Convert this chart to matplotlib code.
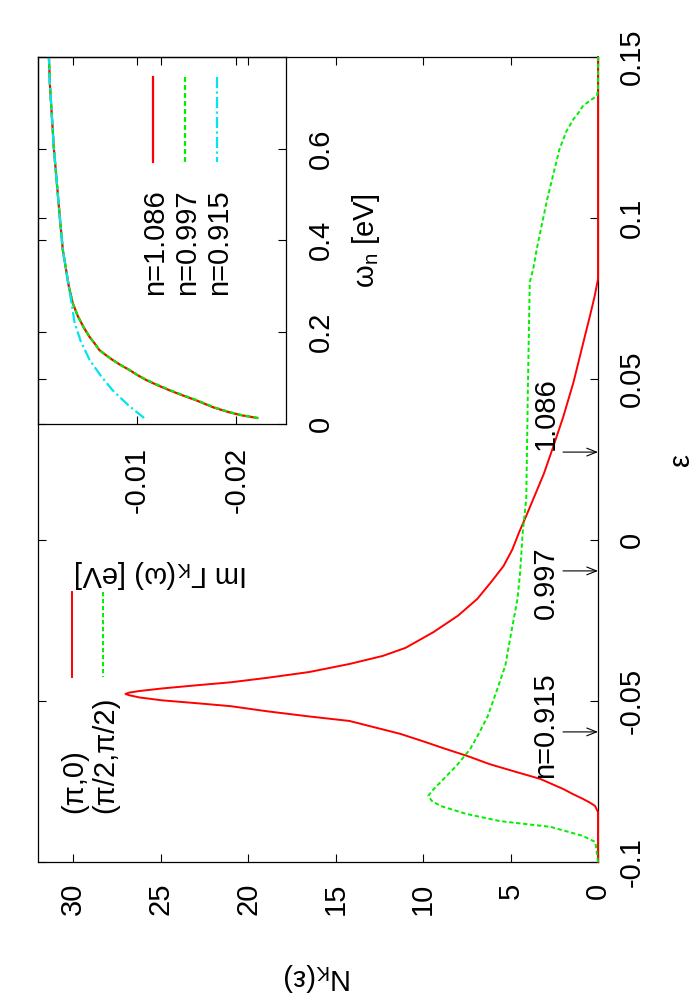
import matplotlib.pyplot as plt
from matplotlib.lines import Line2D

# main panel: N_K(eps) for two k points
red_eps = [-0.100, -0.0845, -0.0826, -0.0816, -0.0804, -0.0790, -0.0773, -0.0742, -0.0720,
           -0.0696, -0.0672, -0.0649, -0.0625, -0.0602, -0.0562, -0.0548, -0.0532, -0.0516,
           -0.0507, -0.0498, -0.0489, -0.0482, -0.0478, -0.0474, -0.0469, -0.0461, -0.0451,
           -0.0442, -0.0428, -0.0410, -0.0385, -0.0360, -0.0335, -0.0286, -0.0235, -0.0183,
           -0.0130, -0.0081, -0.0030, 0.0025, 0.0075, 0.0127, 0.0205, 0.0283, 0.0380, 0.0490,
           0.0600, 0.0696, 0.0755, 0.0810, 0.150]
red_N = [0, 0, 0.17, 0.45, 0.86, 1.4, 2.0, 3.3, 4.7,
         6.2, 7.4, 8.7, 10.0, 11.3, 14.2, 16.5, 18.9, 21.0,
         22.9, 24.9, 26.2, 26.8, 27.0, 26.8, 26.2, 24.9, 22.9,
         21.0, 18.9, 16.5, 14.2, 12.3, 11.0, 9.4, 8.0, 6.9,
         6.1, 5.4, 4.9, 4.5, 4.1, 3.7, 3.1, 2.6, 2.0, 1.4,
         0.9, 0.46, 0.2, 0, 0]

green_eps = [-0.100, -0.0938, -0.0919, -0.0891, -0.0873, -0.0851, -0.0826, -0.0810, -0.0795,
             -0.0780, -0.0752, -0.0702, -0.0649, -0.0600, -0.0547, -0.0470, -0.0391, -0.0300,
             -0.0183, -0.0100, 0.0025, 0.0127, 0.0491, 0.0801, 0.0842, 0.0904, 0.1059,
             0.1214, 0.1270, 0.1307, 0.1328, 0.1348, 0.1365, 0.1379, 0.140, 0.150]
green_N = [0, 0.15, 0.86, 2.7, 5.6, 7.5, 9.0, 9.5, 9.7,
           9.5, 9.0, 8.1, 7.3, 6.8, 6.3, 5.8, 5.3, 5.0,
           4.6, 4.45, 4.3, 4.1, 4.0, 3.9, 3.7, 3.5, 2.9,
           2.2, 1.8, 1.4, 1.1, 0.86, 0.45, 0.06, 0, 0]

n_ticks = [0, 5, 10, 15, 20, 25, 30]
eps_ticks = [-0.1, -0.05, 0, 0.05, 0.1, 0.15]
eps_ticklabels = ['-0.1', '-0.05', '0', '0.05', '0.1', '0.15']

# chemical potential markers
arrow_eps = [-0.0596, -0.0096, 0.0273]
arrow_text_eps = [-0.074, -0.0245, 0.028]
arrow_labels = ['n=0.915', '0.997', '1.086']

# inset: Im Gamma_K(omega_n)
w_red = [0.012, 0.018, 0.025, 0.035, 0.051, 0.062, 0.073, 0.084, 0.095, 0.106, 0.117, 0.128,
         0.139, 0.150, 0.160, 0.175, 0.189, 0.210, 0.235, 0.263, 0.300, 0.340, 0.379, 0.450,
         0.525, 0.600, 0.670, 0.740, 0.800]
im_red = [-0.0221, -0.0205, -0.0192, -0.0177, -0.0159, -0.0145, -0.0132, -0.0120, -0.0109,
          -0.0100, -0.0092, -0.0083, -0.0075, -0.0068, -0.0062, -0.0057, -0.0052, -0.0046,
          -0.0040, -0.0035, -0.0031, -0.0028, -0.0025, -0.0022, -0.0019, -0.0016, -0.0014,
          -0.0012, -0.0011]
w_green = list(w_red)
im_green = [-0.0222, -0.0206, -0.0193, -0.0178, -0.0160, -0.0146, -0.0133, -0.0121, -0.0110,
            -0.0100, -0.0092, -0.0083, -0.0075, -0.0068, -0.0062, -0.0057, -0.0052, -0.0046,
            -0.0040, -0.0035, -0.0031, -0.0028, -0.0025, -0.0022, -0.0019, -0.0016, -0.0014,
            -0.0012, -0.0011]
w_cyan = [0.012, 0.040, 0.073, 0.105, 0.139, 0.180, 0.219, 0.260, 0.300, 0.340, 0.379, 0.450,
          0.525, 0.600, 0.670, 0.740, 0.800]
im_cyan = [-0.0107, -0.0091, -0.0075, -0.0063, -0.0052, -0.0043, -0.0037, -0.0034, -0.0031,
           -0.0028, -0.0025, -0.0022, -0.0019, -0.0016, -0.0014, -0.0012, -0.0011]

w_ticks = [0, 0.2, 0.4, 0.6]
im_ticks = [-0.01, -0.02]

RED = '#ff0000'
GREEN = '#00ee00'
CYAN = '#00e5f0'

plt.rcParams['font.family'] = ['Liberation Sans', 'DejaVu Sans']
plt.rcParams['mathtext.fontset'] = 'custom'
plt.rcParams['mathtext.rm'] = 'Liberation Sans'
plt.rcParams['font.size'] = 21

fig = plt.figure(figsize=(7, 10), dpi=100)
W, H = 700.0, 1000.0

# main axes (plot is drawn rotated: N runs right-to-left, eps upward)
ax = fig.add_axes([38 / W, 1 - 862 / H, 560 / W, 805 / H])
ax.plot(red_N, red_eps, color=RED, lw=1.4, zorder=3, clip_on=False)
ax.plot(green_N, green_eps, color=GREEN, lw=1.4, dashes=(2.2, 1.4), zorder=3, clip_on=False)
ax.set_xlim(32, 0)
ax.set_ylim(-0.1, 0.15)
ax.set_xticks(n_ticks)
ax.set_xticklabels([str(v) for v in n_ticks], rotation=90)
ax.set_yticks(eps_ticks)
ax.set_yticklabels(eps_ticklabels, rotation=90, va='center')
ax.tick_params(direction='in', length=6, width=0.8, top=True, right=True,
               labelleft=False, labelright=True)
ax.tick_params(axis='x', pad=15)
ax.tick_params(axis='y', pad=14)
for s in ax.spines.values():
    s.set_linewidth(0.9)

for e, te, lab in zip(arrow_eps, arrow_text_eps, arrow_labels):
    ax.annotate('', xy=(0, e), xytext=(2, e),
                arrowprops=dict(arrowstyle='->,head_length=0.5,head_width=0.2', lw=0.8,
                                color='black', shrinkA=0, shrinkB=0, mutation_scale=14))
    ax.text(3.0, te, lab, rotation=90, ha='center', va='bottom')

fig.text(681 / W, 1 - 460 / H, 'ε', rotation=90, ha='center', va='center')
fig.text(318 / W, 1 - 977 / H, r'N$_\mathrm{K}$(ε)', rotation=180, ha='center', va='center')

# main legend
for x, c, d, lab in [(72, RED, None, '(π,0)'), (103, GREEN, (2.2, 1.4), '(π/2,π/2)')]:
    ln = Line2D([x / W, x / W], [1 - 592 / H, 1 - 677 / H], color=c, lw=1.4,
                transform=fig.transFigure)
    if d:
        ln.set_dashes(d)
    fig.add_artist(ln)
    fig.text((x + 2) / W, 1 - 813 / H, lab, rotation=90, ha='center', va='bottom')

# inset
axi = fig.add_axes([38 / W, 1 - 423.5 / H, 248 / W, 366.5 / H])
axi.patch.set_alpha(0)
axi.plot(im_red, w_red, color=RED, lw=1.6)
axi.plot(im_green, w_green, color=GREEN, lw=1.6, dashes=(2.2, 1.4))
axi.plot(im_cyan, w_cyan, color=CYAN, lw=1.6, dashes=(5, 1.5, 1, 1.5))
axi.set_xlim(0, -0.025)
axi.set_ylim(0, 0.8)
axi.set_xticks(im_ticks)
axi.set_xticklabels(['-0.01', '-0.02'], rotation=90)
axi.set_yticks(w_ticks)
axi.set_yticklabels(['0', '0.2', '0.4', '0.6'], rotation=90, va='center')
axi.tick_params(direction='in', length=6, width=0.8, top=True, right=True,
                labelleft=False, labelright=True)
axi.tick_params(axis='x', pad=17)
axi.tick_params(axis='y', pad=15)
for s in axi.spines.values():
    s.set_linewidth(0.9)

fig.text(161 / W, 1 - 574 / H, r'Im Γ$_\mathrm{K}$(ω) [eV]', rotation=180, ha='center', va='center')
fig.text(366 / W, 1 - 241 / H, r'ω$_\mathrm{n}$ [eV]', rotation=90, ha='center', va='center')

# inset legend
for x, c, d, lab in [(153, RED, None, 'n=1.086'), (185, GREEN, (2.2, 1.4), 'n=0.997'),
                     (217, CYAN, (5, 1.5, 1, 1.5), 'n=0.915')]:
    ln = Line2D([x / W, x / W], [1 - 77 / H, 1 - 162 / H], color=c, lw=1.6,
                transform=fig.transFigure)
    if d:
        ln.set_dashes(d)
    fig.add_artist(ln)
    fig.text((x + 2) / W, 1 - 295 / H, lab, rotation=90, ha='center', va='bottom')

fig.savefig('out.png', dpi=100)
